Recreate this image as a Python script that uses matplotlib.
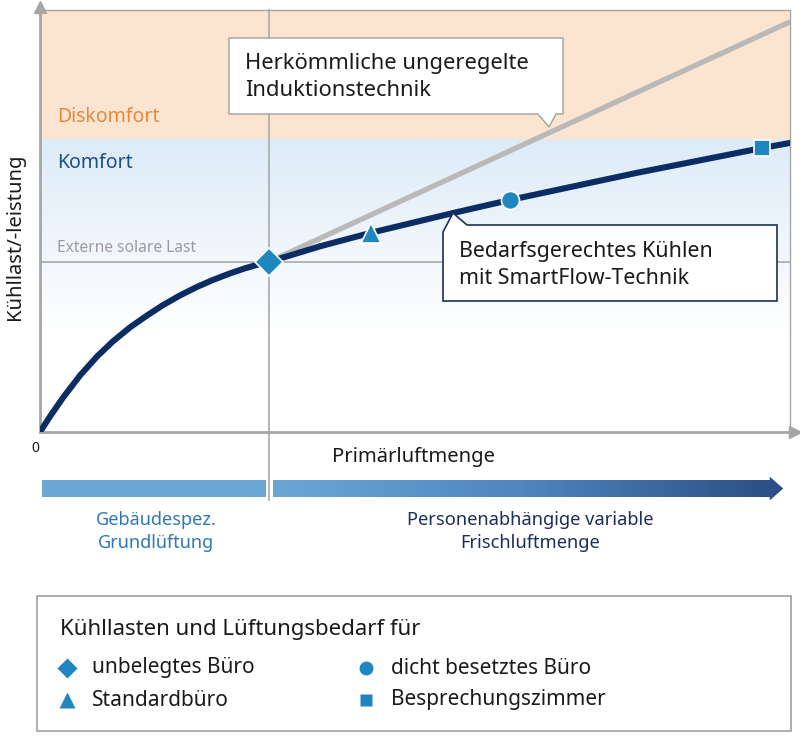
import numpy as np
import matplotlib
matplotlib.use("Agg")
import matplotlib.pyplot as plt
from matplotlib.patches import Polygon, Rectangle
from matplotlib.colors import LinearSegmentedColormap

plt.rcParams['font.family'] = ['Noto Sans', 'DejaVu Sans']

# ---------------- data ----------------
# SmartFlow curve (Primärluftmenge vs. Kühllast) (0..100 units)
flow_curve = [0, 1.33, 3.07, 5.33, 7.6, 9.73, 12.0, 14.27, 16.4, 18.67, 20.93, 23.07,
              25.33, 27.33, 29.33, 30.5, 37.33, 44.1, 55.1, 62.7, 79.47, 96.3, 100]
load_curve = [0, 3.67, 8.15, 13.39, 17.89, 21.49, 24.79, 27.61, 30.07, 32.37, 34.38, 36.04,
              37.58, 38.79, 39.81, 40.3, 44.0, 47.2, 51.9, 55.0, 61.37, 67.3, 68.5]
# conventional uncontrolled induction technology
conv_flow = [30.5, 100]
conv_load = [40.3, 97.2]
# room types
room_names = ["unbelegtes Büro", "Standardbüro", "dicht besetztes Büro", "Besprechungszimmer"]
room_flow = [30.5, 44.1, 62.7, 96.3]
room_load = [40.3, 47.2, 55.0, 67.3]
room_marker = ["D", "^", "o", "s"]
comfort_limit = 69.2
solar_load = 40.3
base_flow = 30.5

NAVY = "#0c2d63"
MARK = "#1f87c0"
GRAY = "#b9b9b9"
AXG = "#a6a6a6"

W, H = 800, 742
fig = plt.figure(figsize=(W / 100, H / 100), dpi=100)
fig.patch.set_facecolor("white")

def fx(px):
    return px / W

def fy(py):
    return 1 - py / H

ax = fig.add_axes([fx(40), fy(432), 750 / W, 422 / H])
ax.set_xlim(0, 100)
ax.set_ylim(0, 100)
ax.set_xticks([])
ax.set_yticks([])
for s in ["top", "right"]:
    ax.spines[s].set_color(AXG)
    ax.spines[s].set_linewidth(1.0)
for s in ["left", "bottom"]:
    ax.spines[s].set_color(AXG)
    ax.spines[s].set_linewidth(2.0)

# backgrounds
ax.axhspan(comfort_limit, 100, color="#fce5d0", zorder=0, lw=0)
grad = np.linspace(0, 1, 256).reshape(-1, 1)
cm_bg = LinearSegmentedColormap.from_list("bg", ["#ddebf8", "#eef5fb", "#ffffff", "#ffffff"])
ax.imshow(grad, extent=[0, 100, 0, comfort_limit], origin="upper", aspect="auto",
          cmap=cm_bg, zorder=0)

# reference lines
ax.axhline(solar_load, color="#a9a9a9", lw=1.2, zorder=1)
ax.plot([base_flow, base_flow], [-16.0, 100], color="#a9a9a9", lw=1.2, zorder=1, clip_on=False)

# curves
ax.plot(conv_flow, conv_load, color=GRAY, lw=3.8, solid_capstyle="butt", zorder=2)
ax.plot(flow_curve, load_curve, color=NAVY, lw=4.4, solid_capstyle="round",
        solid_joinstyle="round", zorder=3)

msz = {"D": 14, "^": 14, "o": 13, "s": 12}
for f, l, m in zip(room_flow, room_load, room_marker):
    ax.plot([f], [l], marker=m, ms=msz[m], color=MARK, mec="white", mew=1.2, zorder=4,
            linestyle="none", clip_on=False)

# axis arrows
ax.plot([0], [100.6], marker="^", ms=9, color=AXG, clip_on=False, zorder=5)
ax.plot([100.6], [0], marker=">", ms=9, color=AXG, clip_on=False, zorder=5)

# bottom bars (base ventilation + variable fresh air)
ax.add_patch(Rectangle((0.3, -15.4), base_flow - 0.7, 4.0, facecolor="#6aa7d7",
                       edgecolor="none", clip_on=False))
cm_bar = LinearSegmentedColormap.from_list("bar", ["#6aa7d7", "#4f86bd", "#2b4f86"])
im = ax.imshow(np.linspace(0, 1, 256).reshape(1, -1), extent=[base_flow + 0.6, 97.4, -15.4, -11.4],
               aspect="auto", cmap=cm_bar, zorder=1)
im.set_clip_on(False)
ax.add_patch(Polygon([(97.3, -10.6), (99.1, -13.4), (97.3, -16.2)], closed=True,
                     facecolor="#2b4f86", edgecolor="none", clip_on=False))
ax.set_xlim(0, 100)
ax.set_ylim(0, 100)

# ---------------- overlay in pixel coordinates ----------------
ov = fig.add_axes([0, 0, 1, 1], zorder=10)
ov.set_xlim(0, W)
ov.set_ylim(H, 0)
ov.axis("off")
ov.patch.set_alpha(0)

# callouts
ov.add_patch(Polygon([(229, 38), (563, 38), (563, 114), (556, 114), (549, 127),
                      (538, 114), (229, 114)], closed=True, facecolor="white",
                     edgecolor="#a0a0a0", lw=1.0))
ov.text(245, 63, "Herkömmliche ungeregelte", fontsize=15.8, va="center", color="#1a1a1a")
ov.text(245, 91, "Induktionstechnik", fontsize=15.8, va="center", color="#1a1a1a")

ov.add_patch(Polygon([(443, 232), (453, 213), (467, 225), (777, 225), (777, 301),
                      (443, 301)], closed=True, facecolor="white",
                     edgecolor="#1c2f5c", lw=1.2))
ov.text(459, 251, "Bedarfsgerechtes Kühlen", fontsize=15.4, va="center", color="#1a1a1a")
ov.text(459, 279, "mit SmartFlow-Technik", fontsize=15.4, va="center", color="#1a1a1a")

# zone labels
ov.text(57, 117, "Diskomfort", fontsize=14, va="center", color="#e8893a")
ov.text(57, 163, "Komfort", fontsize=14, va="center", color="#1a4f8a")
ov.text(57, 248, "Externe solare Last", fontsize=11.2, va="center", color="#9c9c9c")

# axis labels
ov.text(15, 237, "Kühllast/-leistung", fontsize=14.5, rotation=90, ha="center", va="center",
        color="#1a1a1a")
ov.text(35, 448, "0", fontsize=10, ha="center", va="center", color="#1a1a1a")
ov.text(414, 457, "Primärluftmenge", fontsize=14.5, ha="center", va="center", color="#1a1a1a")

ov.text(156, 520, "Gebäudespez.", fontsize=13, ha="center", va="center", color="#2f78b4")
ov.text(156, 543, "Grundlüftung", fontsize=13, ha="center", va="center", color="#2f78b4")
ov.text(530, 520, "Personenabhängige variable", fontsize=13.2, ha="center", va="center",
        color="#1c2f5c")
ov.text(530, 543, "Frischluftmenge", fontsize=13.2, ha="center", va="center", color="#1c2f5c")

# legend
ov.add_patch(Rectangle((37, 596), 754, 135, facecolor="white", edgecolor="#a0a0a0", lw=1.2))
ov.text(60, 630, "Kühllasten und Lüftungsbedarf für", fontsize=16, va="center", color="#1a1a1a")
leg_x = [67, 67, 366, 366]
leg_y = [668, 700, 668, 700]
lsz = {"D": 10, "^": 11, "o": 10, "s": 8.5}
for name, m, lx, ly in zip(room_names, room_marker, leg_x, leg_y):
    ov.plot([lx], [ly], marker=m, ms=lsz[m], color=MARK, mec="none", linestyle="none")
    ov.text(lx + 25, ly, name, fontsize=15, va="center", color="#1a1a1a")

fig.savefig("out.png", dpi=100)
